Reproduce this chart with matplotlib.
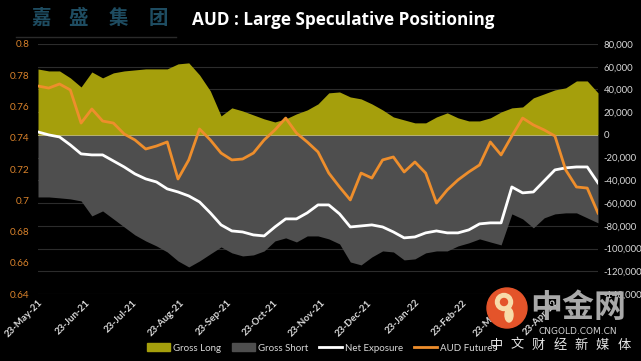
import numpy as np
import pandas as pd
import matplotlib
matplotlib.use("Agg")
import matplotlib.pyplot as plt
import matplotlib.dates as mdates
from matplotlib.patches import Patch, Ellipse
from matplotlib.lines import Line2D
from matplotlib.ticker import FuncFormatter, MultipleLocator

# weekly COT positioning (contracts)
gross_long = [58000, 56300, 56300, 50200, 42200, 55400, 50200, 54600, 56300, 57200,
              58100, 58100, 58100, 62500, 63400, 52800, 38700, 16700, 23800, 21100,
              17600, 14100, 11400, 14100, 18500, 22000, 27300, 37000, 37800, 33400,
              31700, 27300, 22000, 15800, 13200, 10600, 10600, 15800, 19400, 15000,
              12300, 12300, 15000, 20200, 23800, 24600, 32600, 36100, 39600, 41400,
              47500, 47500, 37000]
gross_short = [-54600, -54600, -55400, -56300, -58100, -71300, -66900, -73900, -81000, -88000,
               -93300, -97700, -103000, -110900, -116200, -110900, -104700, -98600, -103800, -106500,
               -105600, -102100, -93300, -90600, -94200, -88900, -88900, -91500, -95900, -111800,
               -114400, -107400, -102100, -103000, -110000, -109100, -103800, -102100, -102100, -97700,
               -95000, -91500, -94200, -96800, -69500, -73900, -81800, -73000, -69500, -68600,
               -68600, -73000, -77400]
net_exposure = [2600, 0, -1800, -8800, -16700, -17600, -17600, -22900, -28200, -34300,
                -38700, -41400, -47500, -50200, -53700, -59000, -68600, -79200, -84500, -85400,
                -88000, -88900, -81000, -73900, -73900, -68600, -61600, -61600, -69500, -81000,
                -80100, -79200, -81000, -85400, -90600, -89800, -86200, -84500, -86200, -86200,
                -83600, -78300, -77400, -77400, -45800, -51000, -50200, -40500, -30800, -29000,
                -28200, -28200, -42200]
aud_futures = [0.7731, 0.7718, 0.7744, 0.7706, 0.7494, 0.7584, 0.7507, 0.7494, 0.7424, 0.7386,
               0.7328, 0.7347, 0.7373, 0.7136, 0.7258, 0.7456, 0.7386, 0.7302, 0.7258, 0.7264,
               0.7302, 0.7386, 0.7450, 0.7526, 0.7430, 0.7373, 0.7309, 0.7174, 0.7085, 0.7002,
               0.7174, 0.7142, 0.7258, 0.7277, 0.7181, 0.7245, 0.7174, 0.6982, 0.7066, 0.7130,
               0.7181, 0.7226, 0.7373, 0.7290, 0.7411, 0.7526, 0.7482, 0.7450, 0.7411, 0.7194,
               0.7085, 0.7078, 0.6918]
first_week = "2021-05-23"

logo_chars = ["嘉", "盛", "集", "团"]
title = "AUD : Large Speculative Positioning"
legend_labels = ["Gross Long", "Gross Short", "Net Exposure", "AUD Futures"]
tagline = ["中", "文", "财", "经", "新", "媒", "体"]

dates = pd.date_range(first_week, periods=len(gross_long), freq="7D")

OLIVE = "#a59f0c"
GREY = "#4e4e4e"
ORANGE = "#ee8e2c"
TXT = "#d9d9d9"

W, H = 641, 361
fig = plt.figure(figsize=(W / 100, H / 100), dpi=100, facecolor="black")
ax = fig.add_axes([38 / W, 1 - 294 / H, 560 / W, 250 / H])
ax.set_facecolor("black")

ax.fill_between(dates, 0, gross_long, color=OLIVE, lw=0, zorder=2)
ax.fill_between(dates, gross_short, 0, color=GREY, lw=0, zorder=2)
ax.axhline(0, color="#c9c27a", lw=0.6, zorder=3)
ax.plot(dates, net_exposure, color="white", lw=2.0, zorder=4, solid_joinstyle="round")
ax.set_ylim(-140000, 80000)
ax.set_xlim(dates[0], dates[-1])
ax.yaxis.set_major_locator(MultipleLocator(20000))
ax.yaxis.set_major_formatter(FuncFormatter(lambda v, p: f"{v:,.0f}"))
ax.grid(axis="y", color="#2c2c2c", lw=0.8)
ax.set_axisbelow(True)

ax2 = ax.twinx()
ax2.plot(dates, aud_futures, color=ORANGE, lw=2.0, solid_joinstyle="round")
ax2.set_ylim(0.64, 0.8)
ax2.yaxis.set_major_locator(MultipleLocator(0.02))
ax2.yaxis.set_major_formatter(FuncFormatter(lambda v, p: f"{round(v, 2):g}"))
ax2.yaxis.tick_left()
ax.yaxis.tick_right()

for a in (ax, ax2):
    for s in a.spines.values():
        s.set_visible(False)

ax.tick_params(axis="y", length=0, pad=4, labelsize=6.8, labelcolor=TXT)
ax2.tick_params(axis="y", length=0, pad=6, labelsize=7.2, labelcolor="#d9822b")
for t in ax.get_yticklabels() + ax2.get_yticklabels():
    t.set_family("Lato")

ax.xaxis.set_major_locator(mdates.MonthLocator(bymonthday=23))
ax.xaxis.set_major_formatter(mdates.DateFormatter("%d-%b-%y"))
ax.tick_params(axis="x", length=0, pad=3, labelsize=7, labelcolor=TXT)
for t in ax.get_xticklabels():
    t.set_rotation(45)
    t.set_ha("right")
    t.set_va("top")
    t.set_rotation_mode("anchor")
    t.set_fontweight("bold")
    t.set_family("Lato")

# header: company mark + title
logo_x = [41, 78, 118, 158]
for ch, x in zip(logo_chars, logo_x):
    fig.text(x / W, 1 - 18 / H, ch, color="#1e4c61", fontsize=14, fontweight="bold",
             family="Noto Sans CJK SC", ha="center", va="center")
fig.add_artist(Line2D([16 / W, 176 / W], [1 - 37 / H, 1 - 37 / H], color="#2a2a2a", lw=1,
                      transform=fig.transFigure))
fig.text(192 / W, 1 - 20 / H, title, color="white", fontsize=12.3, fontweight="bold",
         family="Open Sans", ha="left", va="center")

# legend
handles = [Patch(color=OLIVE), Patch(color=GREY),
           Line2D([], [], color="white", lw=2), Line2D([], [], color=ORANGE, lw=2)]
leg = fig.legend(handles, legend_labels, loc="center", bbox_to_anchor=(322 / W, 1 - 348 / H),
                 ncol=4, frameon=False, handlelength=2.4, handleheight=0.8,
                 handletextpad=0.3, columnspacing=1.1, labelcolor=TXT,
                 prop={"family": "Lato", "size": 7})

# watermark
fig.add_artist(Ellipse((507 / W, 1 - 308 / H), 40 / W, 40 / H, color="#e4542a",
                       transform=fig.transFigure, zorder=10))
fig.add_artist(Ellipse((504 / W, 1 - 302 / H), 17 / W, 17 / H, color="#f7dcaa",
                       transform=fig.transFigure, zorder=11))
fig.add_artist(Ellipse((504 / W, 1 - 302 / H), 7 / W, 7 / H, color="#e4542a",
                       transform=fig.transFigure, zorder=12))
fig.add_artist(Ellipse((509 / W, 1 - 315 / H), 8 / W, 14 / H, color="#f7dcaa",
                       transform=fig.transFigure, zorder=11))
fig.text(578 / W, 1 - 308 / H, "中金网", color="#a9a9a9", fontsize=23, fontweight="bold",
         family="Noto Sans CJK SC", ha="center", va="center", zorder=10)
fig.text(578 / W, 1 - 331 / H, "CNGOLD.COM.CN", color="#cfcfcf", fontsize=6.5,
         family="DejaVu Sans", ha="center", va="center", zorder=10)
for i, ch in enumerate(tagline):
    fig.text((496 + i * 21.3) / W, 1 - 345 / H, ch, color="#e6e6e6", fontsize=9.5,
             family="Noto Sans CJK SC", ha="center", va="center", zorder=10)

fig.savefig("out.png", dpi=100, facecolor="black")
